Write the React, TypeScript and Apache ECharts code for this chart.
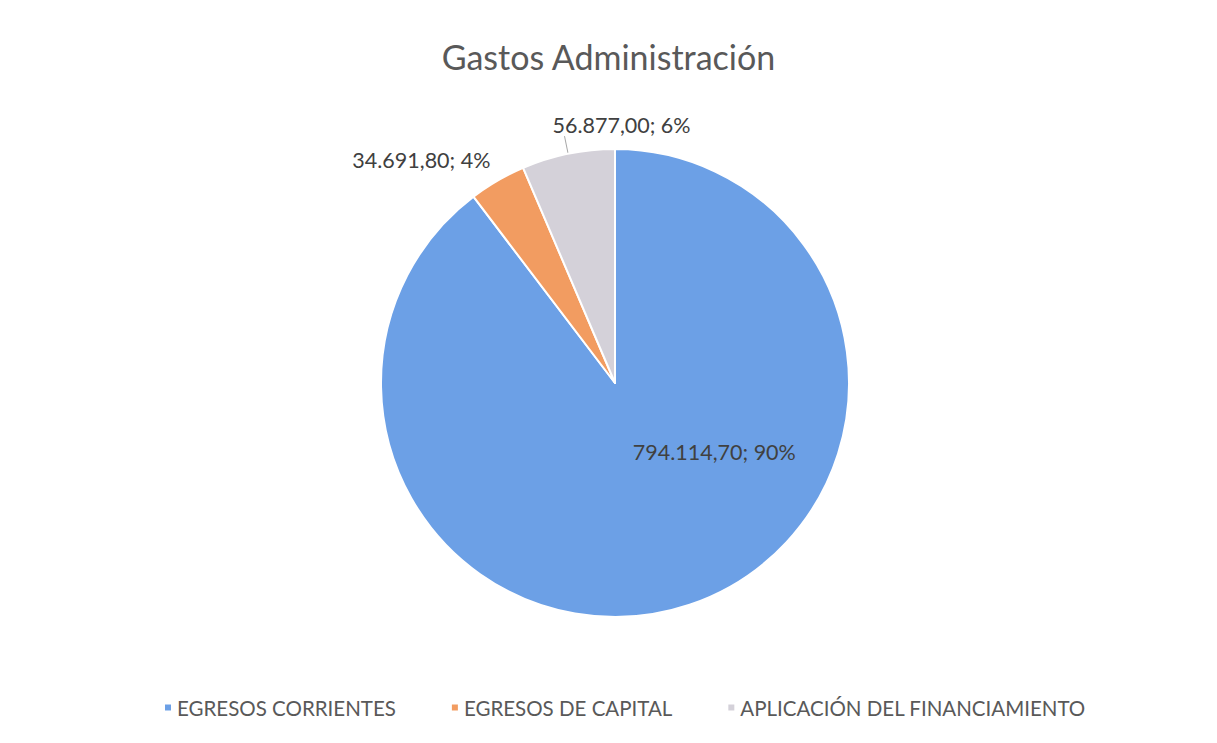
import React, { useEffect, useRef } from "react";
import * as echarts from "echarts";

const categories = ["EGRESOS CORRIENTES", "EGRESOS DE CAPITAL", "APLICACIÓN DEL FINANCIAMIENTO"];
const values = [794114.7, 34691.8, 56877.0];
const colors = ["#6ca0e6", "#f29c61", "#d4d1d9"];

const FONT = "Lato, 'Open Sans', sans-serif";

function fmtEs(v: number): string {
  const parts = v.toFixed(2).split(".");
  const intPart = parts[0].replace(/\B(?=(\d{3})+(?!\d))/g, ".");
  return intPart + "," + parts[1];
}

export default function App() {
  const ref = useRef<HTMLDivElement>(null);
  useEffect(() => {
    document.body.style.margin = "0";
    const chart = echarts.init(ref.current!, null, { renderer: "svg" });
    chart.setOption({
      animation: false,
      backgroundColor: "#ffffff",
      title: {
        text: "Gastos Administración",
        left: "center",
        top: 34,
        textStyle: { fontFamily: FONT, fontSize: 34, fontWeight: "normal", color: "#595959" },
      },
      legend: {
        bottom: 20,
        left: 158,
        icon: "rect",
        itemWidth: 8,
        itemHeight: 8,
        itemGap: 54,
        textStyle: { fontFamily: FONT, fontSize: 20.5, color: "#595959" },
        data: categories,
      },
      series: [
        {
          type: "pie",
          center: [615, 383],
          radius: 234,
          startAngle: 90,
          clockwise: true,
          itemStyle: { borderColor: "#ffffff", borderWidth: 2 },
          label: {
            show: true,
            position: "outside",
            fontFamily: FONT,
            fontSize: 21.5,
            color: "#404040",
            formatter: (p: any) => fmtEs(p.value) + "; " + Math.round(p.percent) + "%",
          },
          labelLine: { show: false, length: 0, length2: 0, lineStyle: { color: "#a6a6a6", width: 1 } },
          labelLayout: (p: any) => {
            if (p.dataIndex === 0) return { dx: 61, dy: -45 };
            if (p.dataIndex === 1) return { dx: -2, dy: -21 };
            return { align: "center", verticalAlign: "bottom", dx: 62, dy: 0 };
          },
          data: categories.map((name, i) => ({
            name,
            value: values[i],
            itemStyle: { color: colors[i] },
            label: i === 0 ? { position: "inside" } : undefined,
            labelLine: i === 2 ? { show: true, length: 18, length2: 0 } : undefined,
          })),
        },
      ],
    });
    return () => chart.dispose();
  }, []);
  return <div ref={ref} style={{ width: 1217, height: 743 }} />;
}
